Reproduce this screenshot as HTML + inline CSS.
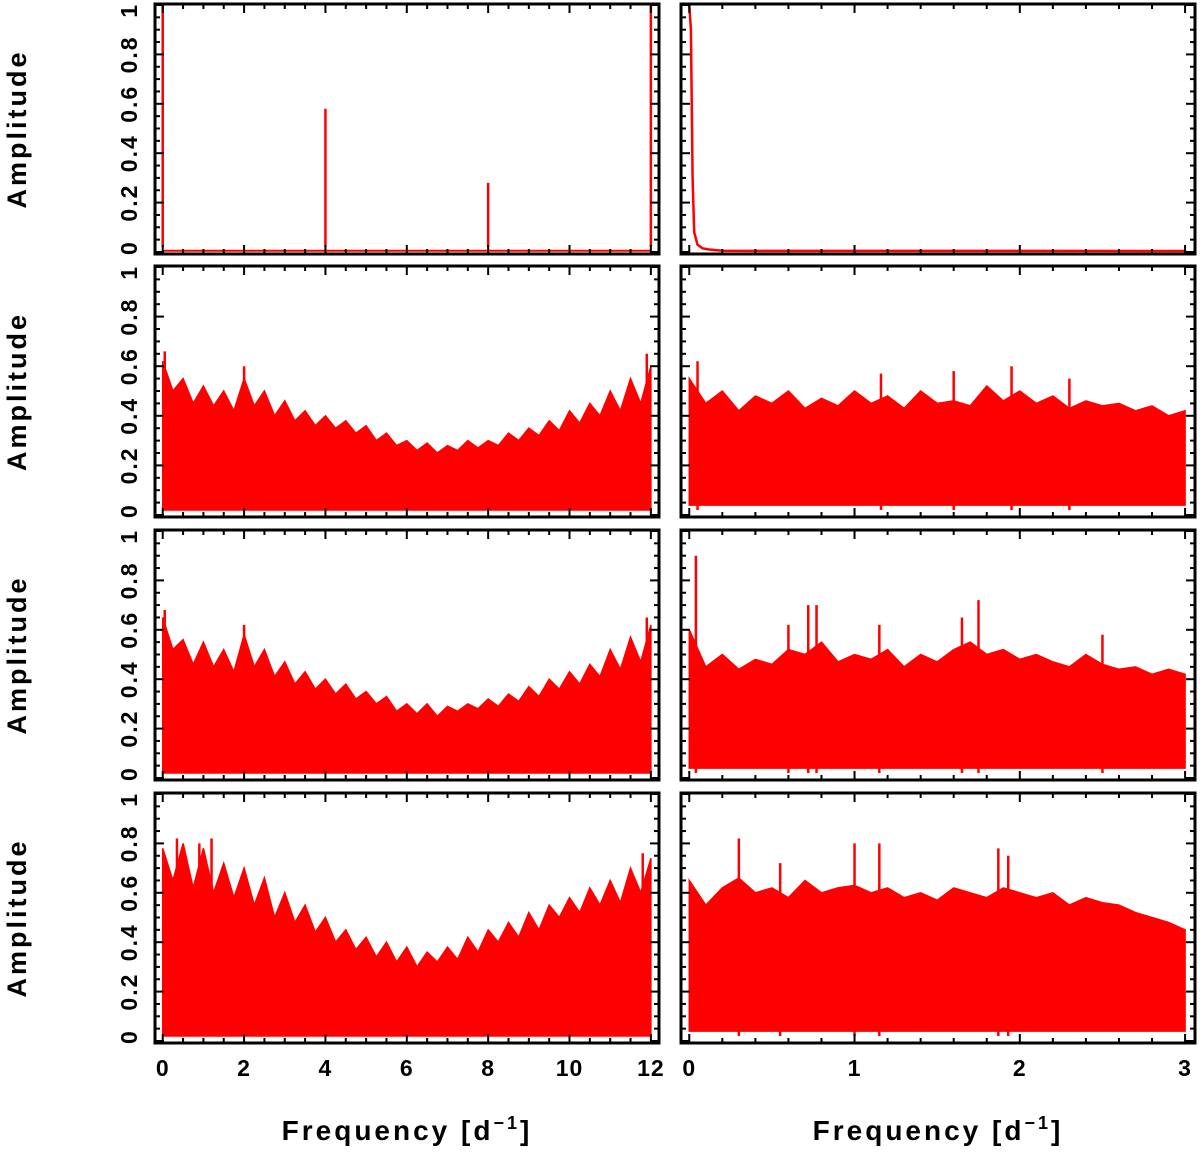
<!DOCTYPE html>
<html><head><meta charset="utf-8"><style>
html,body{margin:0;padding:0;background:#fff;}
svg text{font-family:"Liberation Sans",sans-serif;font-weight:bold;fill:#000;}
</style></head><body>
<svg id="fig" width="1200" height="1149" viewBox="0 0 1200 1149" xmlns="http://www.w3.org/2000/svg"></svg>
<script>
// ---- data ----
const leftStep = 0.25;   // frequency spacing of left envelope values
const rightStep = 0.1;   // frequency spacing of right envelope values
const row2Left = [0.62,0.5,0.55,0.45,0.52,0.44,0.5,0.42,0.55,0.44,0.5,0.4,0.46,0.38,0.42,0.36,0.4,0.35,0.38,0.33,0.36,0.3,0.33,0.28,0.3,0.26,0.29,0.25,0.28,0.26,0.3,0.27,0.3,0.28,0.33,0.3,0.35,0.32,0.38,0.34,0.42,0.37,0.45,0.4,0.5,0.42,0.55,0.45,0.6];
const row3Left = [0.65,0.52,0.56,0.46,0.55,0.45,0.52,0.43,0.58,0.45,0.52,0.41,0.47,0.38,0.43,0.36,0.4,0.34,0.38,0.32,0.35,0.3,0.33,0.27,0.3,0.26,0.3,0.25,0.29,0.27,0.3,0.28,0.32,0.29,0.34,0.31,0.37,0.33,0.4,0.36,0.43,0.38,0.46,0.41,0.52,0.44,0.57,0.47,0.62];
const row4Left = [0.78,0.65,0.8,0.62,0.78,0.6,0.72,0.58,0.7,0.55,0.66,0.5,0.6,0.48,0.55,0.44,0.5,0.4,0.45,0.37,0.42,0.34,0.4,0.32,0.38,0.3,0.36,0.32,0.38,0.33,0.42,0.36,0.45,0.4,0.48,0.42,0.52,0.45,0.55,0.5,0.58,0.52,0.62,0.55,0.65,0.56,0.7,0.6,0.74];
const row2Right = [0.55,0.45,0.5,0.42,0.48,0.45,0.5,0.43,0.47,0.44,0.5,0.45,0.48,0.43,0.5,0.45,0.46,0.44,0.52,0.46,0.5,0.45,0.48,0.43,0.46,0.44,0.45,0.42,0.44,0.4,0.42];
const row3Right = [0.6,0.45,0.5,0.44,0.48,0.46,0.52,0.5,0.55,0.47,0.5,0.48,0.52,0.45,0.5,0.47,0.52,0.55,0.5,0.52,0.48,0.5,0.47,0.45,0.5,0.46,0.44,0.45,0.42,0.44,0.42];
const row4Right = [0.65,0.55,0.62,0.66,0.6,0.62,0.58,0.65,0.6,0.62,0.63,0.6,0.62,0.58,0.6,0.57,0.62,0.6,0.58,0.62,0.6,0.58,0.6,0.55,0.58,0.56,0.55,0.52,0.5,0.48,0.45];
const row2RightPeaks = [[0.05,0.62],[1.16,0.57],[1.6,0.58],[1.95,0.6],[2.3,0.55]];
const row3RightPeaks = [[0.04,0.9],[0.6,0.62],[0.72,0.7],[0.77,0.7],[1.15,0.62],[1.65,0.65],[1.75,0.72],[2.5,0.58]];
const row4RightPeaks = [[0.3,0.82],[0.55,0.72],[1.0,0.8],[1.15,0.8],[1.87,0.78],[1.93,0.75]];
const row2LeftPeaks = [[0.05,0.66],[2.0,0.6],[11.9,0.65]];
const row3LeftPeaks = [[0.05,0.68],[2.0,0.62],[11.9,0.65]];
const row4LeftPeaks = [[0.35,0.82],[0.9,0.8],[1.2,0.82],[11.8,0.76]];
const topLeftPeaks = [[0.0,1.0],[4.0,0.58],[8.0,0.28],[12.0,1.0]];
const topRightDecayFreq = [0,0.01,0.02,0.03,0.05,0.08,0.12,0.2,3.0];
const topRightDecayAmp = [1.0,0.9,0.3,0.08,0.03,0.015,0.01,0.005,0.004];
const yTickLabels = ["0","0.2","0.4","0.6","0.8","1"];
const leftXLabels = ["0","2","4","6","8","10","12"];
const rightXLabels = ["0","1","2","3"];

const NS="http://www.w3.org/2000/svg";
const svg=document.getElementById('fig');
function mk(tag,attrs,parent){const e=document.createElementNS(NS,tag);for(const k in attrs)e.setAttribute(k,attrs[k]);(parent||svg).appendChild(e);return e;}

const rows=[[4,254],[266,517],[530,780],[793,1043]];
const cols=[{x0:155,x1:659,fmin:-0.19,fmax:12.2,minor:0.5,major:2},{x0:681,x1:1195,fmin:-0.05,fmax:3.06,minor:0.2,major:1}];
function xs(c,f){return c.x0+(f-c.fmin)/(c.fmax-c.fmin)*(c.x1-c.x0);}
function ys(r,a){const b=rows[r][1]-2,t=rows[r][0]+1;return b-a*(b-t);}

function envelope(g,r,c,vals,step,low){
  let pts=[];
  vals.forEach((v,i)=>{pts.push([xs(c,i*step),ys(r,v)]);});
  let d='M'+xs(c,0)+','+ys(r,low);
  pts.forEach(p=>{d+=' L'+p[0].toFixed(1)+','+p[1].toFixed(1);});
  d+=' L'+xs(c,(vals.length-1)*step)+','+ys(r,low)+' Z';
  const p=mk('path',{d:d,fill:'#ff0000',stroke:'#ff0000','stroke-width':1.5},g);
  
  
}
function peaks(g,r,c,list){
  list.forEach(pk=>{
    const l=mk('line',{x1:xs(c,pk[0]),x2:xs(c,pk[0]),y1:ys(r,0.02),y2:ys(r,pk[1]),stroke:'#ff0000','stroke-width':2.5},g);
    
    
  });
}

for(let r=0;r<4;r++){
  for(let ci=0;ci<2;ci++){
    const c=cols[ci];
    const g=mk('g',{});
    
    
    const [t,b]=rows[r];
    if(r===0&&ci===0){
      const base=mk('line',{x1:xs(c,0),x2:xs(c,12),y1:ys(r,0.005),y2:ys(r,0.005),stroke:'#ff0000','stroke-width':2},g);
      
      
      peaks(g,r,c,topLeftPeaks);
    } else if(r===0&&ci===1){
      let d='';
      topRightDecayFreq.forEach((f,i)=>{d+=(i?' L':'M')+xs(c,f).toFixed(1)+','+ys(r,topRightDecayAmp[i]).toFixed(1);});
      const p=mk('path',{d:d,fill:'none',stroke:'#ff0000','stroke-width':2.5},g);
      
      
    } else {
      const L=[null,row2Left,row3Left,row4Left][r], R=[null,row2Right,row3Right,row4Right][r];
      const LP=[null,row2LeftPeaks,row3LeftPeaks,row4LeftPeaks][r], RP=[null,row2RightPeaks,row3RightPeaks,row4RightPeaks][r];
      if(ci===0){envelope(g,r,c,L,leftStep,0.02);peaks(g,r,c,LP);}
      else{envelope(g,r,c,R,rightStep,0.04);peaks(g,r,c,RP);}
    }
    const fr=mk('rect',{x:c.x0,y:t,width:c.x1-c.x0,height:b-t,fill:'none',stroke:'#000','stroke-width':3},g);
    
    
    for(let k=0;k<=20;k++){
      const a=k*0.05, y=ys(r,a), len=(k%4===0)?9:5;
      mk('line',{x1:c.x0,x2:c.x0+len,y1:y,y2:y,stroke:'#000','stroke-width':2},g);
      mk('line',{x1:c.x1,x2:c.x1-len,y1:y,y2:y,stroke:'#000','stroke-width':2},g);
    }
    const n=Math.round((ci?3:12)/c.minor);
    for(let k=0;k<=n;k++){
      const f=k*c.minor, x=xs(c,f), maj=Math.abs(f/c.major-Math.round(f/c.major))<1e-6, len=maj?9:5;
      mk('line',{x1:x,x2:x,y1:b,y2:b-len,stroke:'#000','stroke-width':2},g);
      mk('line',{x1:x,x2:x,y1:t,y2:t+len,stroke:'#000','stroke-width':2},g);
    }
    if(ci===0){
      yTickLabels.forEach((s,i)=>{
        const y=ys(r,i*0.2), x=137;
        const anchor=i===0?'start':(i===5?'end':'middle');
        const yy=i===0?y+3:(i===5?y-2:y);
        const tx=mk('text',{x:x,y:yy,'font-size':23,'letter-spacing':2,'text-anchor':anchor,transform:`rotate(-90 ${x} ${yy})`},g);
        tx.textContent=s;
        
        
      });
      const cy=(t+b)/2;
      const yt=mk('text',{x:26,y:cy,'font-size':27,'letter-spacing':3,'text-anchor':'middle',transform:`rotate(-90 26 ${cy})`},g);
      yt.textContent='Amplitude';
      
      
    }
    if(r===3){
      const labs=ci?rightXLabels:leftXLabels;
      labs.forEach((s,i)=>{
        const tx=mk('text',{x:xs(c,i*c.major),y:1076,'font-size':23,'letter-spacing':1,'text-anchor':'middle'},g);
        tx.textContent=s;
        
        
      });
      const xt=mk('text',{x:(c.x0+c.x1)/2,y:1140,'font-size':28,'letter-spacing':3,'text-anchor':'middle'},g);
      xt.innerHTML='Frequency [d<tspan dy="-11" font-size="18">−1</tspan><tspan dy="11">]</tspan>';
      
      
    }
  }
}
</script>
</body></html>
